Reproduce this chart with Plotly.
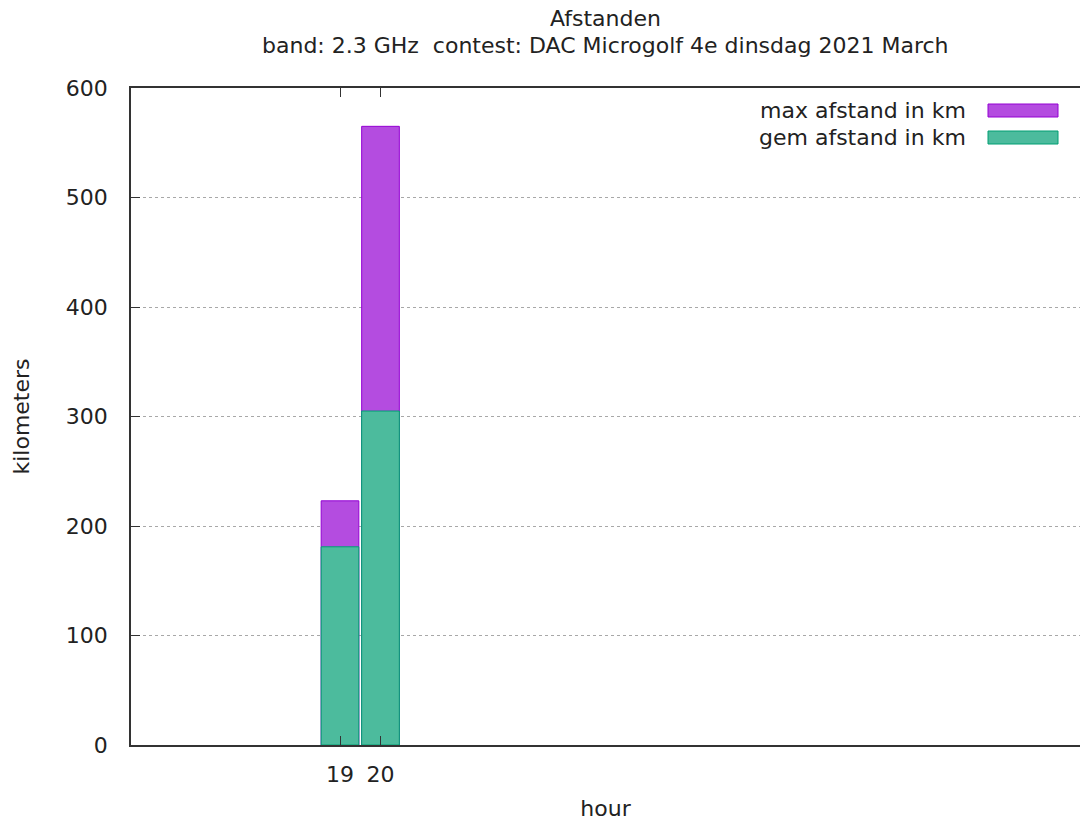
import plotly.graph_objects as go

hours = [19, 20]
max_afstand = [223, 565]
gem_afstand = [181, 305]
tick_vals = [19, 20]
tick_text = ["19", "20"]
y_ticks = [0, 100, 200, 300, 400, 500, 600]
series_names = ["max afstand in km", "gem afstand in km"]
title_lines = ["Afstanden", "band: 2.3 GHz  contest: DAC Microgolf 4e dinsdag 2021 March"]

FONT = "DejaVu Sans"
FS = 22
purple_line = "#9400d3"
purple_fill = "#b44ce0"
green_line = "#009e73"
green_fill = "#4cbb9d"

fig = go.Figure()
fig.add_trace(go.Bar(x=hours, y=max_afstand, name=series_names[0], width=0.93,
                     marker=dict(color=purple_fill, line=dict(color=purple_line, width=1)),
                     showlegend=False))
fig.add_trace(go.Bar(x=hours, y=gem_afstand, name=series_names[1], width=0.93,
                     marker=dict(color=green_fill, line=dict(color=green_line, width=1)),
                     showlegend=False))

W, H = 1080, 826
L, R, T, B = 131, 0, 88, 81
pw, ph = W - L - R, H - T - B


def paper(xpage, ypage):
    """page pixel -> paper coords"""
    return (xpage - L) / pw, ((H - ypage) - B) / ph


annotations = []
for txt, yp in zip(title_lines, [19, 46]):
    px, py = paper(605, yp)
    annotations.append(dict(text=txt, x=px, y=py, xref="paper", yref="paper",
                            xanchor="center", yanchor="middle", showarrow=False,
                            font=dict(size=FS)))
for txt, yp in zip(series_names, [110, 137]):
    px, py = paper(968, yp)
    annotations.append(dict(text=txt, x=px, y=py, xref="paper", yref="paper",
                            xanchor="right", yanchor="middle", showarrow=False,
                            font=dict(size=FS)))

fig.update_layout(
    width=W, height=H,
    margin=dict(l=L, r=R, t=T, b=B),
    barmode="overlay",
    plot_bgcolor="white", paper_bgcolor="white",
    font=dict(family=FONT, size=FS, color="#222222"),
    xaxis=dict(range=[13.84, 37.27], tickvals=tick_vals, ticktext=tick_text,
               ticks="inside", ticklen=9, tickcolor="#333", showline=True,
               linecolor="#333", linewidth=1.5, mirror="ticks", showgrid=False,
               zeroline=False, ticklabelstandoff=9,
               title=dict(text="hour", font=dict(size=FS), standoff=14)),
    yaxis=dict(range=[0, 600], tickvals=y_ticks,
               ticks="inside", ticklen=9, tickcolor="#333", showline=True,
               linecolor="#333", linewidth=1.5, mirror=False,
               showgrid=True, gridcolor="#a8a8a8", griddash="dot", gridwidth=1,
               zeroline=False, ticklabelstandoff=17,
               title=dict(text="kilometers", font=dict(size=FS), standoff=30)),
    annotations=annotations,
)

for (y0, y1, fc, lc) in [(104, 117, purple_fill, purple_line), (131, 144, green_fill, green_line)]:
    x0p, y0p = paper(988, y1)
    x1p, y1p = paper(1058, y0)
    fig.add_shape(type="rect", xref="paper", yref="paper", x0=x0p, x1=x1p, y0=y0p, y1=y1p,
                  fillcolor=fc, line=dict(color=lc, width=1))

fig.write_html(
    "out.html",
    config={"displayModeBar": False},
    post_script="document.body.style.margin='0';document.body.style.overflow='hidden';",
)
